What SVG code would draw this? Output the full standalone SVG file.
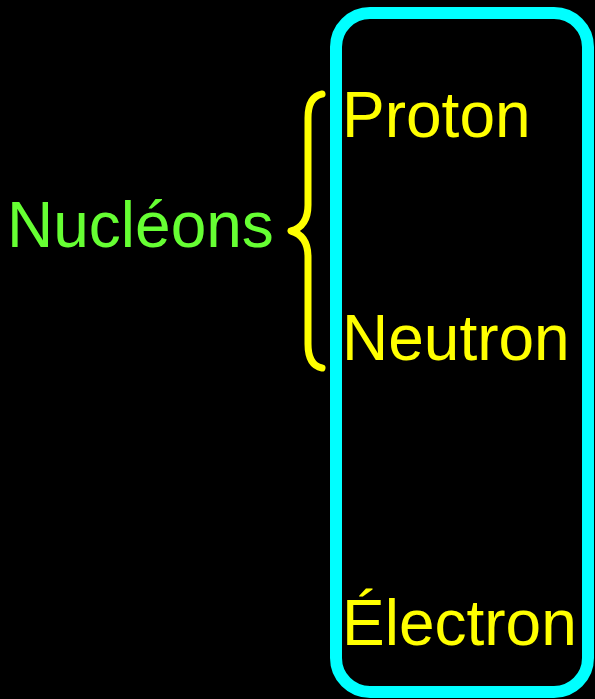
<svg xmlns="http://www.w3.org/2000/svg" width="595" height="699" viewBox="0 0 595 699">
<style>
.t{font-family:"Liberation Sans",Arial,sans-serif;font-size:64px}
.y{fill:#FFFF00}
.g{fill:#66FF33}
</style>
<rect x="0" y="0" width="595" height="699" fill="#000"/>
<g id="box"><rect x="336" y="13" width="252" height="679" rx="34" fill="none" stroke="#00FFFF" stroke-width="12"/></g>
<g id="connectors">
<path d="M322,94 C312,96 308,104 308,118 L308,205 C308,220 302,228 291,231 C302,234 308,242 308,257 L308,344 C308,358 312,366 322,368" fill="none" stroke="#FFFF00" stroke-width="7" stroke-linecap="round" stroke-linejoin="round"/>
</g>
<g id="proton"><text class="t y" x="342" y="137">Proton</text></g>
<g id="neutron"><text class="t y" x="342" y="360">Neutron</text></g>
<g id="electron"><text class="t y" x="342" y="645">Électron</text></g>
<g id="nucleons"><text class="t g" x="7" y="247">Nucléons</text></g>
</svg>
